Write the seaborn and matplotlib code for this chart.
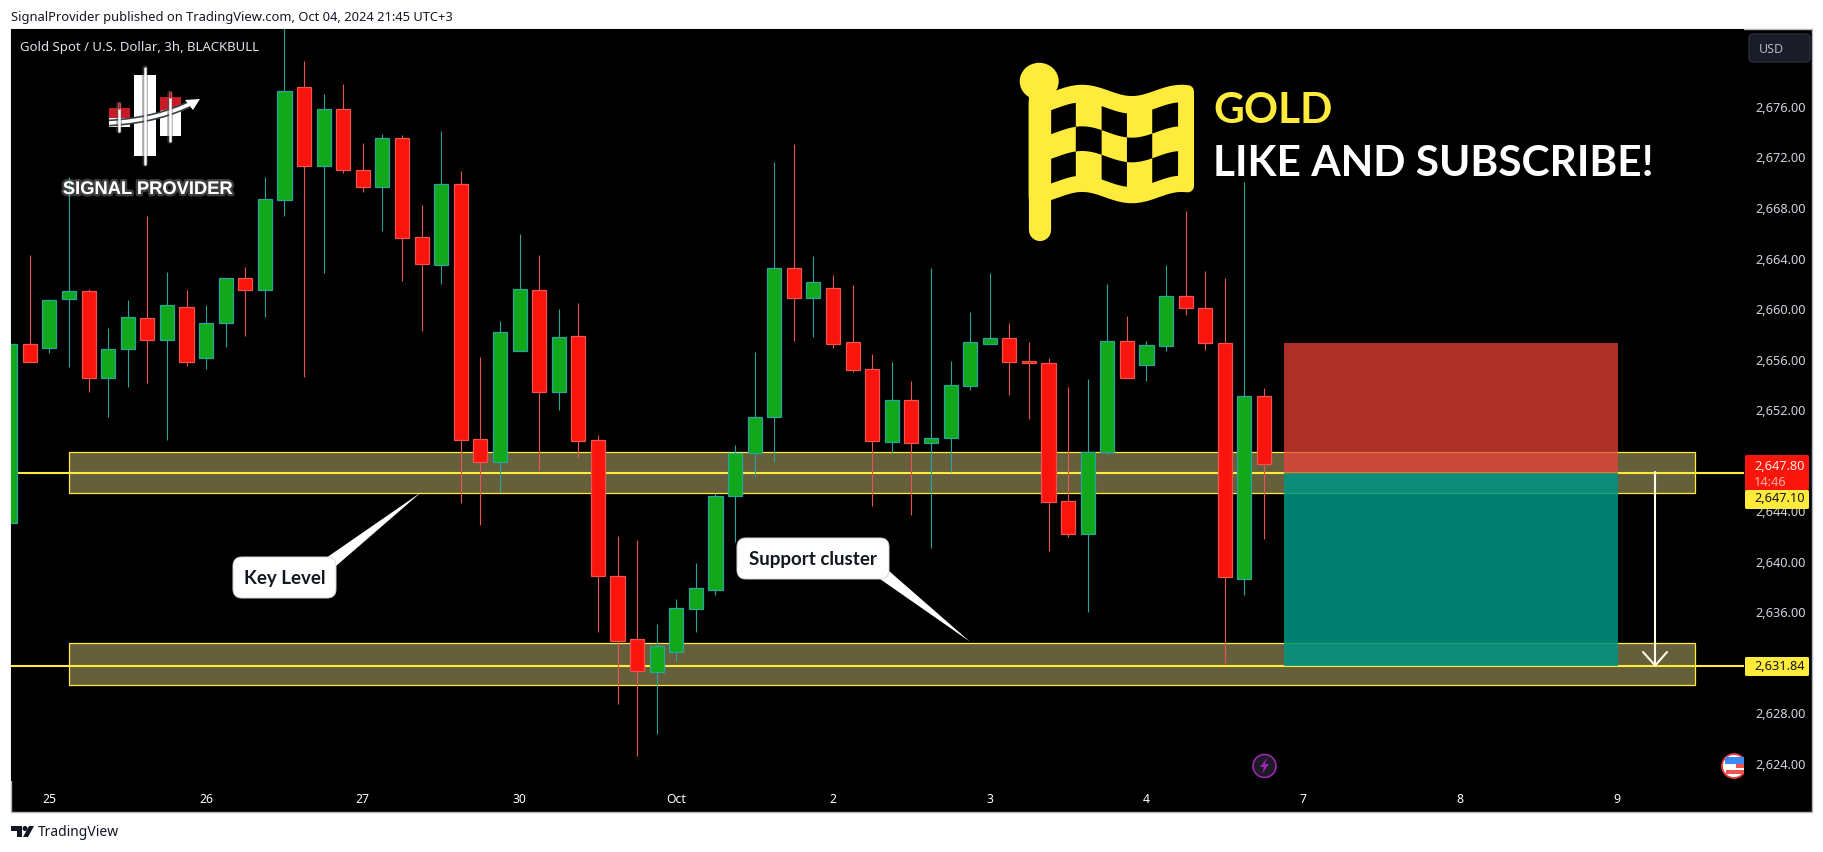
import numpy as np
import pandas as pd
import seaborn as sns
from matplotlib import pyplot as plt
from matplotlib import patheffects as pe
from matplotlib.patches import Circle, Ellipse, FancyBboxPatch, Polygon, Rectangle, PathPatch
from matplotlib.path import Path
from matplotlib.transforms import ScaledTranslation

# 3h candles, index 0 is the one cut by the left edge of the pane
opens = [2643.14, 2657.29, 2656.97, 2660.90, 2661.49, 2654.60, 2656.89, 2659.35, 2657.65, 2660.22,
         2656.23, 2659.00, 2662.52, 2661.61, 2668.74, 2677.64, 2671.38, 2675.90, 2671.07, 2669.77,
         2673.60, 2665.76, 2663.59, 2669.96, 2649.77, 2647.95, 2656.78, 2661.57, 2653.54, 2657.92,
         2649.69, 2638.92, 2633.93, 2631.32, 2632.90, 2636.35, 2637.86, 2645.30, 2648.66, 2651.56,
         2663.31, 2660.98, 2661.72, 2657.45, 2655.31, 2649.58, 2652.86, 2649.50, 2649.89, 2654.01,
         2657.34, 2657.76, 2655.94, 2655.78, 2644.86, 2642.29, 2648.79, 2657.53, 2655.67, 2657.18,
         2661.09, 2660.14, 2657.37, 2638.73, 2653.17]
closes = [2657.29, 2655.91, 2660.77, 2661.49, 2654.60, 2656.89, 2659.43, 2657.65, 2660.38, 2655.91,
          2658.95, 2662.52, 2661.61, 2668.77, 2677.32, 2671.38, 2675.90, 2671.11, 2669.77, 2673.60,
          2665.73, 2663.67, 2669.96, 2649.74, 2647.95, 2658.24, 2661.64, 2653.54, 2657.84, 2649.66,
          2638.92, 2633.82, 2631.40, 2633.38, 2636.39, 2637.97, 2645.25, 2648.66, 2651.51, 2663.31,
          2660.98, 2662.20, 2657.34, 2655.28, 2649.66, 2652.86, 2649.50, 2649.85, 2654.04, 2657.45,
          2657.76, 2655.91, 2655.83, 2644.83, 2642.29, 2648.74, 2657.53, 2654.64, 2657.21, 2661.09,
          2660.19, 2657.42, 2638.84, 2653.17, 2647.79]
highs = [2657.29, 2664.36, 2660.88, 2670.51, 2661.67, 2658.56, 2660.80, 2667.42, 2662.99, 2661.59,
         2660.40, 2662.52, 2663.41, 2670.51, 2683.00, 2679.72, 2677.08, 2677.88, 2673.23, 2673.92,
         2673.86, 2668.32, 2674.15, 2670.99, 2656.26, 2659.13, 2666.02, 2664.36, 2660.08, 2660.56,
         2650.11, 2642.11, 2641.79, 2635.14, 2637.10, 2639.97, 2645.52, 2649.32, 2656.66, 2671.72,
         2673.15, 2664.28, 2662.78, 2661.98, 2656.52, 2655.89, 2654.38, 2663.33, 2655.97, 2659.85,
         2662.93, 2658.98, 2657.45, 2656.20, 2653.91, 2654.54, 2662.06, 2659.53, 2657.55, 2663.57,
         2667.82, 2663.07, 2662.54, 2670.14, 2653.81]
lows = [2643.14, 2655.91, 2656.60, 2655.49, 2653.54, 2651.56, 2653.93, 2654.25, 2649.74, 2655.59,
        2655.33, 2657.08, 2657.95, 2659.47, 2667.47, 2654.72, 2662.93, 2670.88, 2669.37, 2666.28,
        2662.30, 2658.37, 2662.06, 2644.75, 2642.98, 2645.62, 2656.78, 2647.36, 2652.11, 2648.39,
        2634.48, 2628.81, 2624.71, 2626.46, 2632.24, 2634.53, 2637.46, 2641.64, 2646.88, 2647.99,
        2657.57, 2657.89, 2657.02, 2655.12, 2644.51, 2648.66, 2643.80, 2641.14, 2647.20, 2653.69,
        2657.34, 2653.30, 2651.40, 2640.95, 2642.05, 2636.12, 2648.55, 2654.64, 2654.41, 2656.78,
        2659.63, 2656.86, 2632.08, 2637.46, 2641.90]

time_ticks = [2, 10, 18, 26, 34, 42, 50, 58, 66, 74, 82]
time_labels = ['25', '26', '27', '30', 'Oct', '2', '3', '4', '7', '8', '9']
price_ticks = list(range(2624, 2680, 4))

last_price = 2647.10
support_price = 2631.84
zone_upper = (2645.49, 2648.74)
zone_lower = (2630.34, 2633.61)
zone_span = (3.01, 86.02)
box_span = (65.0, 82.06)
stop_price = 2657.38

YELLOW = '#ffeb3b'
GREEN, GREEN_EDGE = '#12a81c', '#26a69a'
RED, RED_EDGE = '#f9150c', '#ef5350'
DARK = '#131722'

sns.set_theme(style='dark', rc={'axes.facecolor': 'black', 'figure.facecolor': 'white'})
plt.rcParams['font.family'] = ['Noto Sans', 'DejaVu Sans']
plt.rcParams['patch.force_edgecolor'] = False

df = pd.DataFrame({'i': np.arange(len(opens)), 'open': opens, 'close': closes, 'high': highs, 'low': lows})
df['bottom'] = df[['open', 'close']].min(axis=1)
df['body'] = (df['open'] - df['close']).abs()
df['up'] = df['close'] >= df['open']

fig = plt.figure(figsize=(18.24, 8.53), dpi=100)
fig.add_artist(Rectangle((11 / 1824, 1 - 813 / 853), 1801 / 1824, 783 / 853, transform=fig.transFigure,
                         facecolor='black', edgecolor='#b2b5be', linewidth=1.0, zorder=0))
ax = fig.add_axes([11 / 1824, 1 - 782 / 853, 1733 / 1824, 752 / 853], zorder=1)

# zones and levels sit under the candles
for low, high in (zone_upper, zone_lower):
    ax.add_patch(Rectangle((zone_span[0], low), zone_span[1] - zone_span[0], high - low, facecolor='#665f3c',
                           edgecolor=YELLOW, linewidth=0.9, zorder=1))
for level in (last_price, support_price):
    ax.axhline(level, color=YELLOW, linewidth=1.5, zorder=2)

for up, body_color, edge_color in ((True, GREEN, GREEN_EDGE), (False, RED, RED_EDGE)):
    part = df[df['up'] == up]
    ax.vlines(part['i'], part['low'], part['high'], color=edge_color, linewidth=0.8, zorder=3)
    sns.barplot(data=part, x='i', y='body', bottom=part['bottom'].values, native_scale=True, errorbar=None,
                width=0.72, color=body_color, saturation=1, edgecolor=edge_color, linewidth=0.9, ax=ax, zorder=4)

# short position box
ax.add_patch(Rectangle((box_span[0], last_price), box_span[1] - box_span[0], stop_price - last_price,
                       facecolor=(238 / 255, 66 / 255, 55 / 255, 0.73), edgecolor='none', zorder=5))
ax.add_patch(Rectangle((box_span[0], support_price), box_span[1] - box_span[0], last_price - support_price,
                       facecolor=(0, 147 / 255, 129 / 255, 0.87), edgecolor='none', zorder=5))

ax.set_xlim(0.04, 88.5)
ax.set_ylim(2622.71, 2682.25)
ax.set_xlabel('')
ax.set_ylabel('')
ax.grid(False)
for side in ax.spines:
    ax.spines[side].set_visible(False)
ax.set_xticks(time_ticks)
ax.set_xticklabels(time_labels, color='white', fontsize=8.8)
ax.get_xticklabels()[4].set_fontweight('bold')
ax.yaxis.tick_right()
ax.set_yticks(price_ticks)
ax.set_yticklabels([f'{p:,.2f}' for p in price_ticks], color='#d1d4dc', fontsize=9.2)
ax.tick_params(axis='x', length=0, pad=8)
ax.tick_params(axis='y', length=0, pad=8)
# the price labels sit a little above their level
for label in ax.get_yticklabels():
    label.set_transform(label.get_transform() + ScaledTranslation(0, 2 / 100, fig.dpi_scale_trans))

# everything drawn on top of the chart, in pixels of the picture
deco = fig.add_axes([0, 0, 1, 1], zorder=5)
deco.set_xlim(0, 1824)
deco.set_ylim(853, 0)
deco.axis('off')
deco.patch.set_visible(False)


def price_tag(y0, y1, color):
    deco.add_patch(FancyBboxPatch((1745, y0), 64, y1 - y0, boxstyle='round,pad=0,rounding_size=1.5',
                                  facecolor=color, edgecolor='none'))


price_tag(456, 491, RED)
price_tag(491, 510, YELLOW)
price_tag(658, 677, YELLOW)
deco.text(1754, 466, '2,647.80', color='#ffe9e0', fontsize=9.2, va='center')
deco.text(1754, 482, '14:46', color='#ffb0a0', fontsize=9.2, va='center')
deco.text(1754, 499, '2,647.10', color=DARK, fontsize=9.2, va='center')
deco.text(1754, 666, '2,631.84', color=DARK, fontsize=9.2, va='center')

deco.add_patch(FancyBboxPatch((1749, 35), 61, 28, boxstyle='round,pad=0,rounding_size=4',
                              facecolor='#1a1d28', edgecolor='#2a2e39', linewidth=1))
deco.text(1759, 49, 'USD', color='#b2b5be', fontsize=9, va='center')

deco.text(11, 17, 'SignalProvider published on TradingView.com, Oct 04, 2024 21:45 UTC+3',
          color=DARK, fontsize=9.3, va='center')
deco.text(20, 47, 'Gold Spot / U.S. Dollar, 3h, BLACKBULL', color='#e0e3eb', fontsize=9.5, va='center')
deco.text(38, 833, 'TradingView', color=DARK, fontsize=10, va='center')
deco.add_patch(Polygon([(11, 827), (22, 827), (22, 838), (17, 838), (17, 832), (11, 832)], facecolor=DARK))
deco.add_patch(Circle((25, 829.5), 2.5, facecolor=DARK))
deco.add_patch(Polygon([(29, 827), (34, 827), (28, 838), (23, 838)], facecolor=DARK))

# callouts
for box, tail, label in (((233, 558, 103, 41), [(326, 559), (421.5, 493), (336, 567)], 'Key Level'),
                         ((737, 539, 152, 41), [(880, 580), (970, 642.7), (889, 572)], 'Support cluster')):
    deco.add_patch(Polygon(tail, facecolor='white', edgecolor='none'))
    deco.add_patch(FancyBboxPatch(box[:2], box[2], box[3], boxstyle='round,pad=0,rounding_size=9',
                                  facecolor='white', edgecolor='#d8d8d8', linewidth=0.7))
    deco.text(box[0] + box[2] / 2, box[1] + box[3] / 2, label, color=DARK, fontsize=13.5, fontweight='bold',
              family='Lato', ha='center', va='center')

# arrow of the short target
deco.plot([1655.2, 1655.2], [473, 666], color='#fffde7', linewidth=1.5)
deco.plot([1643, 1655.2, 1667], [653, 666.5, 653], color='#fffde7', linewidth=1.5)

# event icons
deco.add_patch(Circle((1264.5, 767), 11.5, facecolor='#1e1a28', edgecolor='#9c27b0', linewidth=1.2))
deco.add_patch(Polygon([(1267, 759), (1260, 768), (1264, 768), (1262, 775), (1269, 765), (1265, 765)],
                       facecolor='#9c27b0'))
deco.add_patch(Circle((1734, 767), 12, facecolor='white', edgecolor='#e53935', linewidth=1.3))
deco.add_patch(Rectangle((1725, 758), 19, 6.5, facecolor='#3d8bf2'))
deco.add_patch(Rectangle((1736, 764.5), 8, 4, facecolor='#ef5350'))
deco.add_patch(Rectangle((1726, 771), 18, 4, facecolor='#ef5350'))
deco.add_patch(Rectangle((1744, 750), 4, 34, facecolor='black'))

# signal provider logo
for xc, x0, x1, y0, y1, wy0, wy1 in ((145, 134.5, 156, 76, 157, 69, 165),
                                     (170.5, 160, 181, 98, 137, 94, 142),
                                     (119.5, 109, 130.5, 109, 128, 105, 132)):
    deco.plot([xc, xc], [wy0, wy1], color='white', linewidth=1.8, path_effects=[
        pe.withStroke(linewidth=4, foreground='#555555', alpha=0.5)])
    deco.add_patch(Rectangle((x0, y0), x1 - x0, y1 - y0, facecolor='white', edgecolor='none'))
deco.add_patch(Rectangle((109, 109), 21.5, 10, facecolor='#c91b26'))
deco.add_patch(Polygon([(160, 98), (181, 98), (181, 107), (160, 112)], facecolor='#c91b26'))
deco.plot([119.5, 119.5], [105, 109], color='#c91b26', linewidth=1.8)
deco.plot([170.5, 170.5], [94, 98], color='#c91b26', linewidth=1.8)
swoosh = Path([(109, 124), (145, 122), (172, 114), (194, 103)], [Path.MOVETO, Path.CURVE4, Path.CURVE4, Path.CURVE4])
deco.add_patch(PathPatch(swoosh, facecolor='none', edgecolor='#3b3f46', linewidth=5))
deco.add_patch(PathPatch(swoosh, facecolor='none', edgecolor='white', linewidth=2.6))
deco.add_patch(Polygon([(200, 100), (185, 101), (193, 111)], facecolor='white'))
deco.text(148, 190.5, 'SIGNAL PROVIDER', color='white', fontsize=13.2, fontweight='bold', family='Liberation Sans',
          ha='center', va='center', path_effects=[pe.withStroke(linewidth=3.5, foreground='#888888', alpha=0.45)])


# flag, sized on the reference crop: u across, v down
def fx(u):
    return 980 + np.asarray(u, dtype=float) / 1.858


def fy(v):
    return 20 + np.asarray(v, dtype=float) / 3


def wave(u):
    return 17 + 17 * np.sin(2 * np.pi * (np.asarray(u, dtype=float) - 236) / 185)


def band(u0, u1, top, bottom):
    u = np.linspace(u0, u1, 30)
    pts_u = np.r_[u, u[::-1]]
    pts_v = np.r_[top + wave(u), (bottom + wave(u))[::-1]]
    return np.c_[fx(pts_u), fy(pts_v)]


deco.add_patch(Polygon(band(102, 386, 216, 500), facecolor=YELLOW, edgecolor=YELLOW, linewidth=9, joinstyle='round'))
deco.plot(fx([111, 111]), fy([220, 632]), color=YELLOW, linewidth=16, solid_capstyle='round')
deco.add_patch(Ellipse((1039.2, 82.3), 39, 37, facecolor=YELLOW))
for u0, u1, top, bottom in ((132, 178, 250, 322), (226, 273, 250, 322), (320, 368, 250, 322),
                            (178, 226, 322, 396), (273, 320, 322, 396),
                            (132, 178, 396, 470), (226, 273, 396, 470), (320, 368, 396, 470)):
    deco.add_patch(Polygon(band(u0, u1, top, bottom), facecolor='black', edgecolor='none'))

deco.text(1213, 111, 'GOLD', color=YELLOW, fontsize=30.5, fontweight='bold', family='Lato', va='center')
deco.text(1213, 164, 'LIKE AND SUBSCRIBE!', color='white', fontsize=30.5, fontweight='bold', family='Lato', va='center')

fig.savefig('out.png', dpi=100)
